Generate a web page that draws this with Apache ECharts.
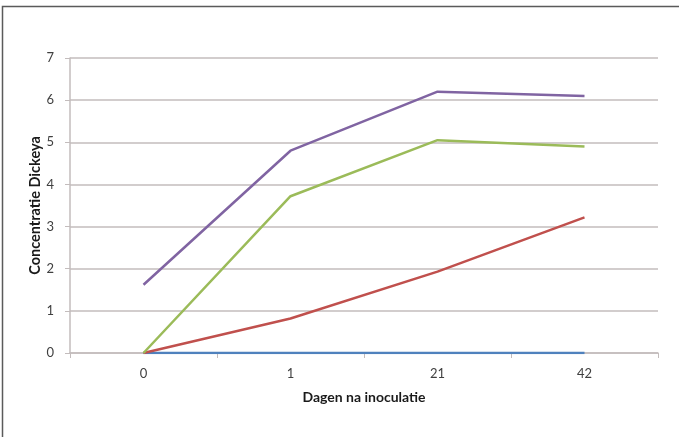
<!DOCTYPE html>
<html><head><meta charset="utf-8">
<script src="https://cdn.jsdelivr.net/npm/echarts@6/dist/echarts.min.js"></script>
<style>html,body{margin:0;padding:0;background:#fff}#c{width:679px;height:437px}</style>
</head><body><div id="c"></div>
<script>
const categories = ['0', '1', '21', '42'];
const seriesBlue = [0, 0, 0, 0];
const seriesRed = [0, 0.82, 1.93, 3.22];
const seriesGreen = [0, 3.72, 5.05, 4.9];
const seriesPurple = [1.62, 4.8, 6.2, 6.1];
const yTicks = [0, 1, 2, 3, 4, 5, 6, 7];

const chart = echarts.init(document.getElementById('c'), null, {renderer: 'canvas'});
const font = 'Lato, "Open Sans", sans-serif';
const gridColor = '#c3bcbc';
function line(data, color, z) {
  return {type: 'line', data: data, symbol: 'none', z: z,
    lineStyle: {color: color, width: 2.5}, itemStyle: {color: color}};
}
chart.setOption({
  animation: false,
  graphic: [{type: 'rect', shape: {x: 2.5, y: 6.5, width: 720, height: 500},
    style: {fill: 'none', stroke: '#5a5a5a', lineWidth: 1.5}, z: 100}],
  grid: {left: 70, right: 21, top: 58, bottom: 84, containLabel: false},
  xAxis: {type: 'category', data: categories, boundaryGap: true,
    name: 'Dagen na inoculatie', nameLocation: 'middle', nameGap: 37, nameMoveOverlap: false,
    nameTextStyle: {fontFamily: font, fontWeight: 'bold', fontSize: 14, color: '#1a1a1a'},
    axisLine: {lineStyle: {color: gridColor, width: 1.5}},
    axisTick: {show: true, length: 5, lineStyle: {color: gridColor}},
    axisLabel: {fontFamily: font, fontSize: 13, color: '#404040', margin: 14}},
  yAxis: {type: 'value', min: yTicks[0], max: yTicks[yTicks.length - 1], interval: 1,
    name: 'Concentratie Dickeya', nameLocation: 'middle', nameGap: 27, nameMoveOverlap: false,
    nameTextStyle: {fontFamily: font, fontWeight: 'bold', fontSize: 14.5, color: '#1a1a1a'},
    axisLine: {show: true, lineStyle: {color: gridColor, width: 1.5}},
    axisTick: {show: true, length: 5, lineStyle: {color: gridColor}},
    axisLabel: {fontFamily: font, fontSize: 13, color: '#404040', margin: 16},
    splitLine: {lineStyle: {color: gridColor, width: 1.5}}},
  series: [
    line(seriesBlue, '#4f81bd', 2),
    line(seriesRed, '#c0504d', 3),
    line(seriesGreen, '#9bbb59', 4),
    line(seriesPurple, '#8064a2', 5)
  ]
});
</script></body></html>
